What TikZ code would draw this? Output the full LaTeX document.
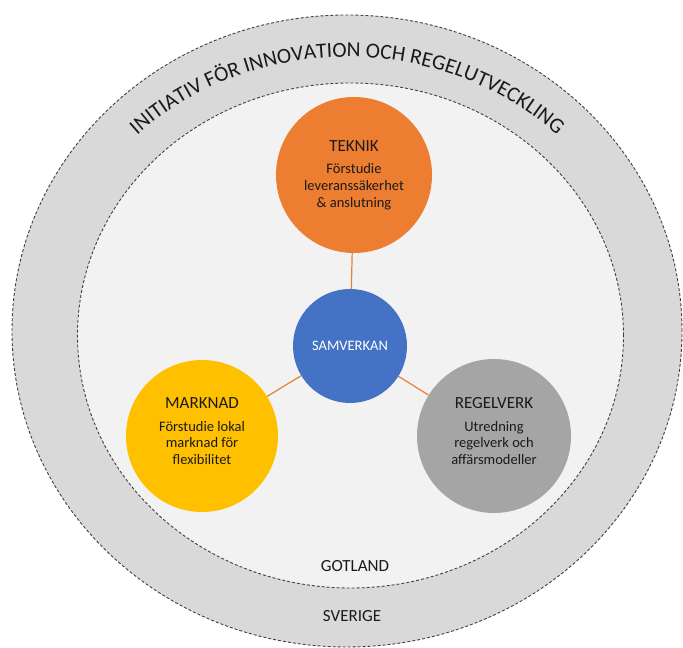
\documentclass[tikz,border=0pt]{standalone}
\usepackage{fontspec}
\setmainfont{Carlito}
\usetikzlibrary{decorations.text}
\definecolor{band}{HTML}{D9D9D9}
\definecolor{innerc}{HTML}{F2F2F2}
\definecolor{dashc}{HTML}{404040}
\definecolor{orng}{HTML}{ED7D31}
\definecolor{blu}{HTML}{4472C4}
\definecolor{yel}{HTML}{FFC000}
\definecolor{gry}{HTML}{A5A5A5}
\definecolor{txt}{HTML}{1A1A1A}
\begin{document}
\begin{tikzpicture}[x=1pt,y=1pt,
  ring/.style={draw=dashc, line width=0.9pt, dash pattern=on 3pt off 2pt},
  bubble/.style={circle, draw=none, inner sep=0pt},
  conn/.style={draw=orng, line width=1.2pt},
  body/.style={align=center, font=\fontsize{14.5}{16.7}\selectfont, text=txt},
  region/.style={font=\fontsize{17}{20}\selectfont, text=txt}]
\useasboundingbox (0,0) rectangle (683,648);
\fill[white] (0,0) rectangle (683,648);
\path[ring, fill=band] (347,317) ellipse [x radius=335, y radius=316];
\path[ring, fill=innerc] (350.5,312.5) ellipse [x radius=273, y radius=252.5];
\path[decorate, decoration={text along path, text align=center,
  text={|\fontsize{21.5}{22}\selectfont\color{txt}|INITIATIV FÖR INNOVATION OCH REGELUTVECKLING}}]
  (47,317) arc[start angle=180, end angle=0, x radius=300, y radius=274];

\node[bubble, fill=orng, minimum size=156pt] (teknik) at (354,473) {};
\node[bubble, fill=blu, minimum size=114pt] (samverkan) at (350,302) {};
\node[bubble, fill=yel, minimum size=152pt] (marknad) at (202,212) {};
\node[bubble, fill=gry, minimum size=154pt] (regelverk) at (494,212) {};

\draw[conn] (samverkan) -- (teknik);
\draw[conn] (samverkan) -- (marknad);
\draw[conn] (samverkan) -- (regelverk);

\node[body] (teknik-t) at (teknik.center) {{\fontsize{17}{20}\selectfont TEKNIK}\\[6pt]Förstudie\\leveranssäkerhet\\\& anslutning};
\node[body, text=white] (samverkan-t) at (samverkan.center) {SAMVERKAN};
\node[body] (marknad-t) at ([yshift=5pt]marknad.center) {{\fontsize{17}{20}\selectfont MARKNAD}\\[6pt]Förstudie lokal\\marknad för\\flexibilitet};
\node[body] (regelverk-t) at ([yshift=5pt]regelverk.center) {{\fontsize{17}{20}\selectfont REGELVERK}\\[6pt]Utredning\\regelverk och\\affärsmodeller};

\node[region] (gotland) at (355,82) {GOTLAND};
\node[region] (sverige) at (352,32) {SVERIGE};
\end{tikzpicture}
\end{document}
